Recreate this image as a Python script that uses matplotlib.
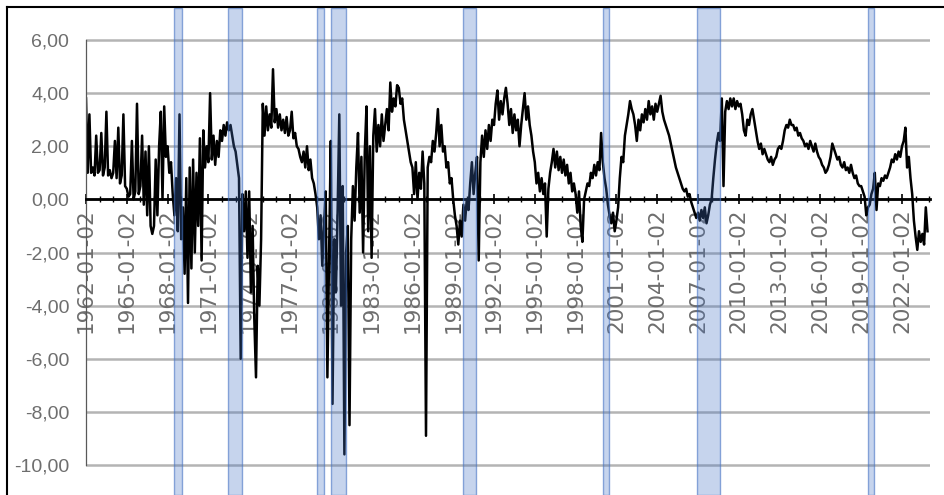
import numpy as np
import matplotlib.pyplot as plt
from matplotlib.lines import Line2D

# spread readings, 8 per year (one every 1.5 months), one row per year
spread_1960s = [
    3.8, 1.0, 3.2, 1.0, 1.2, 0.9, 2.4, 1.0,      # 1962
    1.1, 2.5, 0.9, 1.2, 3.3, 0.9, 1.1, 0.8,      # 1963
    1.0, 2.2, 0.8, 2.7, 0.6, 0.9, 3.2, 0.5,      # 1964
    0.4, 0.1, 0.2, 2.2, 0.0, 0.3, 3.6, 0.2,      # 1965
    0.5, 2.4, -0.2, 1.8, -0.6, 2.0, -1.0, -1.3,  # 1966
    -1.0, 1.5, -0.6, 2.0, 3.3, 0.0, 3.5, 1.6,    # 1967
    2.0, 1.0, 1.4, 0.2, -0.6, 0.8, -1.2, 3.2,    # 1968
    -1.5, -0.3, -2.8, 0.8, -3.9, 1.2, -2.6, 1.5, # 1969
]
spread_1970s = [
    -2.0, 1.0, -1.0, 2.3, -2.3, 2.6, 1.2, 2.0,   # 1970
    1.4, 4.0, 1.5, 2.4, 1.3, 2.2, 1.6, 2.6,      # 1971
    2.2, 2.8, 2.4, 2.9, 2.6, 2.8, 2.4, 2.0,      # 1972
    1.8, 1.3, 0.8, -6.0, 0.2, -1.2, 0.3, -2.2,   # 1973
    0.3, -3.5, -1.0, -4.5, -6.7, -2.5, -4.0, -1.5,  # 1974
    3.6, 2.4, 3.5, 2.6, 3.2, 2.7, 4.9, 2.9,      # 1975
    3.4, 2.7, 3.2, 2.6, 3.0, 2.5, 3.1, 2.4,      # 1976
    2.6, 3.3, 2.3, 2.5, 2.0, 1.9, 1.6, 1.4,      # 1977
    1.8, 1.2, 2.0, 1.1, 1.5, 0.8, 0.6, 0.2,      # 1978
    -0.3, -1.5, -0.6, -2.5, -1.0, 0.3, -6.7, -2.0,  # 1979
]
spread_1980s = [
    2.2, -7.7, -1.5, -3.5, -0.5, 3.2, -4.0, 0.5,    # 1980
    -9.6, -2.0, -1.0, -8.5, -1.5, 0.5, -0.8, 1.2,   # 1981
    2.5, -0.5, 1.6, -2.0, 1.8, 3.5, -1.2, 2.0,      # 1982
    -2.2, 2.4, 3.4, 1.8, 2.8, 2.0, 3.2, 2.2,        # 1983
    2.8, 3.4, 2.6, 4.4, 3.3, 3.8, 3.5, 4.3,         # 1984
    4.2, 3.6, 3.8, 3.0, 2.6, 2.2, 1.8, 1.4,         # 1985
    1.2, 0.2, 1.4, 0.0, 1.0, 0.4, 1.8, 0.6,         # 1986
    -8.9, 1.2, 1.6, 1.4, 2.2, 1.8, 2.5, 3.4,        # 1987
    2.0, 2.8, 1.8, 2.0, 1.2, 1.4, 0.6, 0.8,         # 1988
    0.0, -0.6, -1.0, -1.7, -0.8, -1.4, -0.2, -0.8,  # 1989
]
spread_1990s = [
    0.0, -0.4, 0.6, 1.4, 0.2, 1.0, 1.6, -2.3,    # 1990
    1.4, 2.4, 1.6, 2.6, 1.9, 2.8, 2.2, 3.0,      # 1991
    2.8, 3.6, 4.1, 3.0, 3.7, 3.2, 3.8, 4.2,      # 1992
    3.6, 2.8, 3.4, 2.5, 3.2, 2.6, 3.0, 2.0,      # 1993
    2.8, 3.4, 4.0, 3.0, 3.5, 2.8, 2.4, 1.8,      # 1994
    1.4, 0.6, 1.0, 0.3, 0.8, 0.2, 0.6, -1.4,     # 1995
    0.4, 1.0, 1.4, 1.9, 1.2, 1.8, 1.1, 1.6,      # 1996
    1.0, 1.5, 0.9, 1.3, 0.6, 1.0, 0.3, 0.6,      # 1997
    0.2, -0.5, 0.3, -1.0, -1.6, 0.0, 0.3, 0.6,   # 1998
    0.5, 1.0, 0.8, 1.3, 0.9, 1.4, 1.1, 2.5,      # 1999
]
spread_2000s = [
    1.4, 0.8, 0.4, -0.2, -0.6, -0.9, -0.5, -1.2,   # 2000
    -0.8, -0.3, 0.8, 1.6, 1.4, 2.4, 2.8, 3.2,      # 2001
    3.7, 3.4, 3.2, 2.8, 2.2, 3.0, 2.6, 3.2,        # 2002
    2.9, 3.4, 3.0, 3.7, 3.2, 3.5, 3.0, 3.6,        # 2003
    3.3, 3.6, 3.9, 3.3, 3.0, 2.8, 2.6, 2.4,        # 2004
    2.1, 1.8, 1.5, 1.2, 1.0, 0.8, 0.6, 0.4,        # 2005
    0.3, 0.4, 0.1, 0.2, -0.1, -0.3, -0.5, -0.7,    # 2006
    -0.5, -0.8, -0.4, -0.7, -0.3, -0.9, -0.6, -0.2,  # 2007
    0.0, 0.8, 1.5, 2.1, 2.5, 2.2, 3.8, 0.5,        # 2008
    3.3, 3.7, 3.4, 3.8, 3.5, 3.8, 3.4, 3.7,        # 2009
]
spread_2010s = [
    3.5, 3.6, 3.2, 2.6, 2.4, 3.0, 2.8, 3.2,      # 2010
    3.4, 3.0, 2.6, 2.2, 1.9, 2.1, 1.7, 1.9,      # 2011
    1.7, 1.5, 1.4, 1.6, 1.3, 1.5, 1.6, 1.9,      # 2012
    2.0, 1.9, 2.2, 2.6, 2.8, 2.7, 3.0, 2.8,      # 2013
    2.8, 2.6, 2.7, 2.4, 2.5, 2.3, 2.2, 2.0,      # 2014
    2.1, 1.9, 2.2, 2.0, 1.8, 2.1, 1.8, 1.6,      # 2015
    1.5, 1.3, 1.2, 1.0, 1.1, 1.3, 1.6, 2.1,      # 2016
    1.9, 1.7, 1.5, 1.6, 1.3, 1.2, 1.4, 1.1,      # 2017
    1.2, 1.0, 1.3, 1.0, 0.8, 0.9, 0.6, 0.5,      # 2018
    0.5, 0.3, 0.1, -0.6, -0.3, -0.2, 0.2, 0.4,   # 2019
]
spread_2020s = [
    1.0, -0.4, 0.6, 0.5, 0.8, 0.7, 0.9, 0.8,       # 2020
    1.0, 1.2, 1.5, 1.4, 1.7, 1.5, 1.8, 1.6,        # 2021
    2.0, 2.2, 2.7, 1.2, 1.6, 0.8, 0.2, -0.8,       # 2022
    -1.4, -1.9, -1.2, -1.6, -1.3, -1.7, -0.3, -1.2,  # 2023
]

# shaded periods (decimal years)
shade_start = [1968.47, 1972.44, 1978.99, 1980.01, 1989.72, 2000.01, 2006.93, 2019.50]
shade_end = [1969.06, 1973.47, 1979.50, 1981.12, 1990.68, 2000.46, 2008.62, 2019.94]

label_years = list(range(1962, 2023, 3))
y_levels = [-10, -8, -6, -4, -2, 0, 2, 4, 6]

values = np.array(spread_1960s + spread_1970s + spread_1980s + spread_1990s
                  + spread_2000s + spread_2010s + spread_2020s)
t = 1962 + np.arange(len(values)) / 8

fig = plt.figure(figsize=(9.44, 4.95), dpi=100)
ax = fig.add_axes([86 / 944, 0, 844 / 944, 487 / 495])
ax.set_xlim(1962, 1962 + 844 / 13.6)
ax.set_ylim(-10 - 30 / 26.56, 6 + 32 / 26.56)

# horizontal gridlines
for lvl in y_levels:
    ax.axhline(lvl, color='#b4b4b4', linewidth=1.8, zorder=1.5)

ax.plot(t, values, color='black', lw=1.8, zorder=2)

blue = (68 / 255, 114 / 255, 196 / 255)
for s, e in zip(shade_start, shade_end):
    ax.axvspan(s, e, facecolor=blue + (0.3,), edgecolor=blue + (0.6,), lw=1, zorder=3)

ax.spines['top'].set_visible(False)
ax.spines['right'].set_visible(False)
ax.spines['bottom'].set_position(('data', 0))
ax.spines['bottom'].set_linewidth(2)
ax.spines['left'].set_bounds(-10, 6)
ax.spines['left'].set_color('#595959')
ax.spines['left'].set_linewidth(0.9)

ax.set_xticks(label_years)
ax.set_xticklabels([f'{y}-01-02' for y in label_years], family='DejaVu Sans')
ax.set_xticks(np.arange(1962, 2025, 1), minor=True)
ax.tick_params(axis='x', which='major', direction='inout', length=7, width=1.2,
               pad=3, labelrotation=90, labelsize=15.5, labelcolor='#6e6e6e')
ax.tick_params(axis='x', which='minor', direction='inout', length=4, width=1.0)

ax.set_yticks(y_levels)
ax.set_yticklabels([f'{v:.2f}'.replace('.', ',') for v in y_levels], family='Liberation Sans')
ax.tick_params(axis='y', length=0, pad=12, labelsize=14, labelcolor='#6e6e6e')

# outer chart border (top and left edges visible)
fig.add_artist(Line2D([7 / 944, 1], [1 - 7 / 495, 1 - 7 / 495], transform=fig.transFigure,
                      color='black', lw=1.5))
fig.add_artist(Line2D([7 / 944, 7 / 944], [0, 1 - 7 / 495], transform=fig.transFigure,
                      color='black', lw=1.5))

fig.savefig('out.png', dpi=100)
